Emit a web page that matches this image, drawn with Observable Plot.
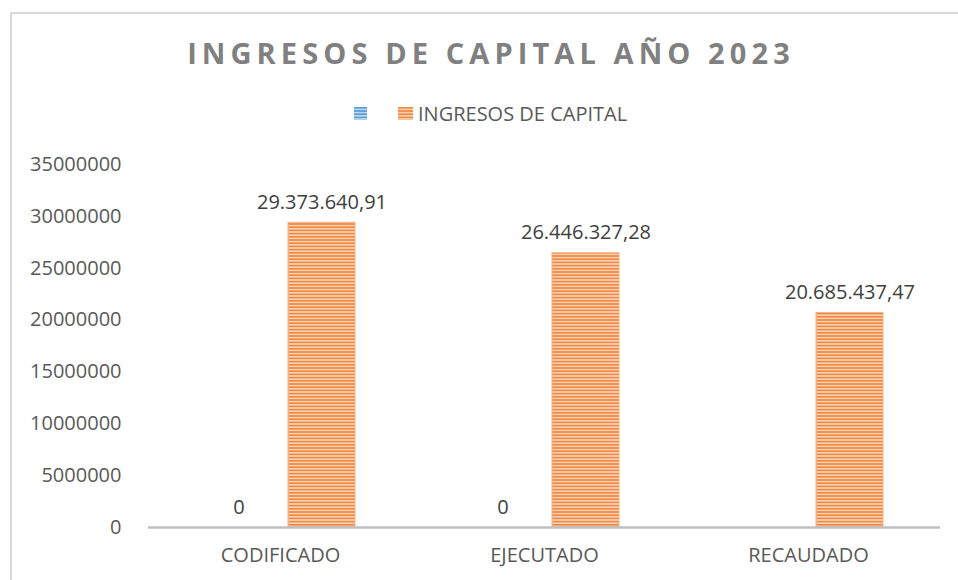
<!DOCTYPE html>
<html>
<head>
<meta charset="utf-8">
<script src="https://cdn.jsdelivr.net/npm/d3@7"></script>
<script src="https://cdn.jsdelivr.net/npm/@observablehq/plot@0.6"></script>
<style>
  html, body { margin: 0; padding: 0; background: #fff; width: 958px; height: 580px; overflow: hidden; position: relative; font-family: "Open Sans", sans-serif; }
  #frame { position: absolute; left: 10px; top: 12px; width: 1000px; height: 620px; border: 2px solid #d9d9d9; box-sizing: border-box; }
  #title { position: absolute; left: 12px; width: 958px; top: 33px; text-align: center; font-family: "Open Sans", sans-serif; font-weight: bold; font-size: 29px; letter-spacing: 5.1px; color: #808080; }
  #legend { position: absolute; left: 354px; top: 100px; font-size: 20px; color: #595959; display: flex; align-items: center; }
  #legend svg { display: block; }
  #chart { position: absolute; left: 0; top: 140px; }
</style>
</head>
<body>
<div id="frame"></div>
<div id="title">INGRESOS DE CAPITAL AÑO 2023</div>
<div id="legend">
  <svg width="13" height="13"><rect width="13" height="13" fill="url(#stripeB)"/></svg>
  <span style="width:31px"></span>
  <svg width="15" height="13"><rect width="15" height="13" fill="url(#stripeO)"/></svg>
  <span style="margin-left:5px">INGRESOS DE CAPITAL</span>
</div>
<div id="chart"></div>
<script>
const categories = ["CODIFICADO", "EJECUTADO", "RECAUDADO"];
const seriesNames = ["", "INGRESOS DE CAPITAL"];
const serieBlue = [0, 0, null];
const ingresosCapital = [29373640.91, 26446327.28, 20685437.47];
const yTicks = [0, 5000000, 10000000, 15000000, 20000000, 25000000, 30000000, 35000000];

const rows = [];
categories.forEach((c, i) => {
  if (serieBlue[i] !== null) rows.push({cat: c, series: seriesNames[0], value: serieBlue[i]});
  rows.push({cat: c, series: seriesNames[1], value: ingresosCapital[i]});
});

const loc = d3.formatLocale({decimal: ",", thousands: ".", grouping: [3], currency: ["", ""]});
const fmt = loc.format(",.2f");
const labelOf = d => d.value === 0 ? "0" : fmt(d.value);

const chart = Plot.plot({
  width: 958,
  height: 440,
  marginTop: 24,
  marginBottom: 53,
  marginLeft: 148,
  marginRight: 18,
  style: {fontFamily: "Open Sans, sans-serif", fontSize: "20px", color: "#595959", background: "transparent"},
  fx: {domain: categories, padding: 0, label: null, axis: "bottom", tickSize: 0, tickPadding: 20},
  x: {domain: seriesNames, axis: null, paddingInner: 0.19, paddingOuter: 0.667},
  y: {domain: [0, 35000000], ticks: yTicks, tickFormat: d => String(d), tickSize: 0, tickPadding: 27, label: null, grid: false},
  marks: [
    Plot.barY(rows.filter(d => d.series === seriesNames[1]), {fx: "cat", x: "series", y: "value", fill: "url(#stripeO)", stroke: "#F4B183", strokeWidth: 1}),
    Plot.ruleY([0], {stroke: "#bfbfbf", strokeWidth: 2.5}),
    Plot.text(rows, {fx: "cat", x: "series", y: "value", text: labelOf, lineAnchor: "bottom", dy: -14, fill: "#404040", fontSize: 20})
  ]
});

const defs = `
<defs>
  <pattern id="stripeO" patternUnits="userSpaceOnUse" width="8" height="3.2">
    <rect width="8" height="3.2" fill="#F9CFB0"/>
    <rect width="8" height="1.6" fill="#EF8A45"/>
  </pattern>
  <pattern id="stripeB" patternUnits="userSpaceOnUse" width="8" height="3.2">
    <rect width="8" height="3.2" fill="#BDD7EE"/>
    <rect width="8" height="1.6" fill="#5B9BD5"/>
  </pattern>
</defs>`;
d3.select(chart).insert("g", ":first-child").html(defs);
document.getElementById("chart").appendChild(chart);
</script>
</body>
</html>
